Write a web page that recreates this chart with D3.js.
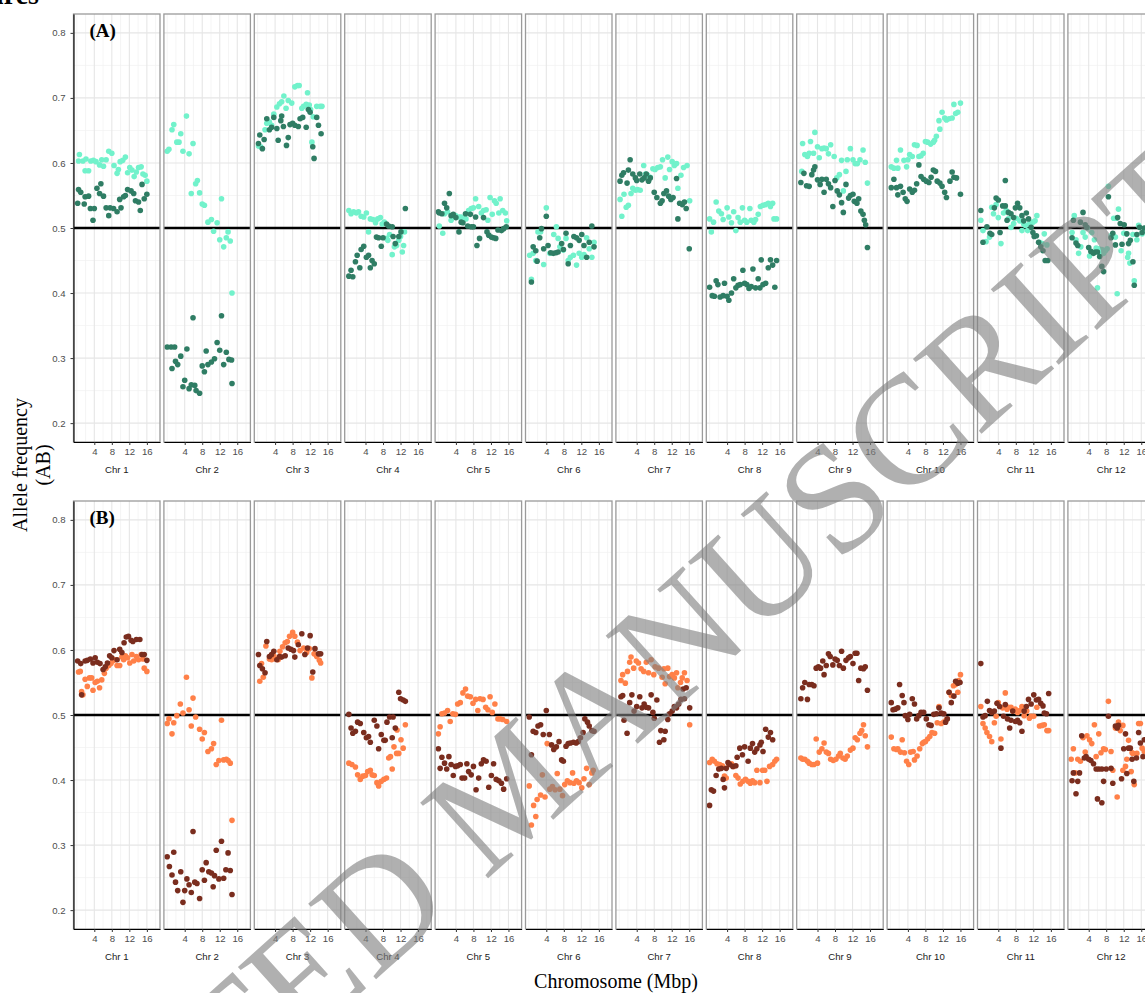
<!DOCTYPE html>
<html>
<head>
<meta charset="utf-8">
<script src="https://cdn.jsdelivr.net/npm/d3@7"></script>
<style>
  body { margin: 0; background: #fff; }
  svg { display: block; }
</style>
</head>
<body>
<svg id="chart" width="1145" height="993"></svg>
<script>
const chromosomes = ["Chr 1", "Chr 2", "Chr 3", "Chr 4", "Chr 5", "Chr 6", "Chr 7", "Chr 8", "Chr 9", "Chr 10", "Chr 11", "Chr 12"];
const xTicks = [4, 8, 12, 16];
const xMinor = [0, 2, 6, 10, 14, 18];
const yTicks = [0.2, 0.3, 0.4, 0.5, 0.6, 0.7, 0.8];
const yMinor = [0.25, 0.35, 0.45, 0.55, 0.65, 0.75];

// panel (A), light series: [Mbp, allele frequency]
const aLight = [
  [[0.4,.603],[0.6,.613],[1.4,.603],[1.9,.588],[2.1,.606],[2.7,.588],[3.2,.603],[3.8,.604],[4.4,.602],[5.2,.597],[5.7,.605],[6.1,.595],[6.7,.605],[7.3,.618],[8.0,.615],[8.5,.596],[9.2,.584],[9.5,.590],[9.9,.602],[10.5,.604],[11.1,.609],[11.6,.585],[12.1,.593],[12.6,.589],[13.1,.579],[13.6,.586],[14.1,.593],[14.7,.594],[15.1,.583],[15.6,.581],[16.0,.572]],
  [[0,.618],[0.4,.621],[1.1,.651],[1.5,.659],[2.2,.632],[2.7,.632],[3.1,.645],[3.6,.618],[4.4,.672],[5.0,.614],[5.9,.630],[5.5,.553],[6.5,.568],[6.9,.573],[7.4,.554],[8.0,.537],[8.5,.535],[9.3,.509],[10.1,.513],[10.6,.495],[11.4,.508],[12.0,.482],[12.4,.545],[12.9,.471],[13.5,.485],[13.9,.494],[14.4,.480],[14.8,.400]],
  [[0.2,.626],[0.7,.625],[1.7,.651],[2.1,.661],[2.7,.663],[3.2,.658],[3.7,.675],[4.4,.686],[5.0,.691],[5.5,.694],[6.0,.703],[6.5,.684],[7.0,.696],[7.8,.692],[8.5,.717],[9.1,.719],[9.5,.719],[10.1,.684],[10.5,.687],[11.1,.690],[11.4,.708],[11.8,.689],[12.1,.682],[12.4,.632],[12.7,.671],[13.5,.687],[14.3,.687],[14.7,.687]],
  [[0.2,.527],[0.7,.522],[1.3,.525],[1.9,.523],[2.4,.525],[3.0,.518],[3.6,.517],[4.2,.523],[4.7,.494],[5.1,.514],[5.7,.513],[6.3,.508],[6.8,.514],[7.4,.516],[7.8,.506],[8.3,.509],[8.8,.484],[9.1,.481],[9.5,.490],[10.1,.459],[10.6,.471],[11.1,.473],[11.6,.481],[12.0,.487],[12.4,.463],[12.7,.473],[12.9,.494]],
  [[0.2,.503],[1.0,.492],[1.4,.522],[2.1,.525],[2.9,.512],[3.4,.518],[3.9,.519],[4.7,.517],[5.2,.517],[5.7,.514],[6.3,.514],[6.9,.527],[7.5,.530],[8.0,.531],[8.5,.545],[9.2,.533],[9.8,.523],[10.3,.527],[10.9,.528],[11.3,.512],[11.8,.547],[12.3,.521],[12.8,.542],[13.2,.538],[13.8,.523],[14.1,.545],[14.7,.527],[15.3,.523],[15.6,.511]],
  [[0.2,.458],[0.6,.421],[1.0,.461],[1.6,.450],[2.1,.494],[2.7,.494],[3.4,.444],[4.0,.531],[4.8,.461],[5.7,.490],[6.3,.502],[6.7,.484],[7.1,.471],[7.9,.466],[8.5,.484],[9.0,.450],[9.5,.455],[10.2,.458],[10.9,.443],[11.5,.461],[12.1,.455],[12.6,.459],[13.2,.485],[13.8,.468],[14.4,.455],[14.9,.478]],
  [[0.2,.544],[0.6,.518],[1.1,.552],[1.6,.532],[2.1,.535],[2.7,.553],[3.1,.561],[3.7,.558],[4.2,.559],[4.8,.558],[5.6,.596],[6.0,.583],[6.5,.581],[7.1,.578],[7.7,.591],[8.2,.590],[8.8,.593],[9.4,.594],[9.9,.605],[10.5,.577],[11.1,.609],[11.5,.590],[12.1,.602],[12.6,.596],[13.1,.599],[13.4,.561],[14.1,.581],[14.7,.593],[15.5,.596],[16.1,.542]],
  [[0,.514],[0.4,.494],[0.9,.509],[1.5,.540],[2.1,.526],[2.7,.522],[3.1,.513],[4.0,.531],[4.4,.517],[5.0,.508],[5.5,.525],[6.0,.496],[6.5,.516],[7.0,.509],[7.5,.531],[8.0,.512],[8.5,.509],[9.2,.530],[9.5,.512],[10.1,.509],[10.5,.513],[11.1,.521],[11.6,.533],[12.2,.535],[12.8,.536],[13.4,.538],[13.9,.533],[14.4,.538],[14.7,.514],[15.3,.514]],
  [[0.4,.587],[0.6,.630],[1.1,.613],[1.7,.610],[2.1,.615],[2.4,.633],[3.1,.615],[3.4,.647],[4.0,.625],[4.4,.608],[5.0,.622],[5.5,.623],[6.0,.622],[6.5,.614],[7.0,.628],[7.8,.610],[8.4,.577],[9.0,.582],[9.5,.604],[9.9,.557],[10.5,.587],[10.8,.605],[11.5,.622],[12.1,.605],[12.6,.599],[13.1,.599],[13.7,.605],[14.4,.620],[14.9,.601],[15.4,.569]],
  [[0.2,.594],[0.8,.592],[1.4,.604],[1.7,.592],[2.3,.620],[3.1,.604],[3.7,.594],[4.0,.605],[4.4,.613],[5.0,.610],[5.5,.628],[6.1,.627],[6.5,.610],[7.0,.611],[7.5,.615],[8.0,.633],[8.5,.632],[9.2,.629],[9.8,.632],[10.1,.635],[10.5,.641],[11.1,.665],[11.3,.652],[11.8,.678],[12.4,.669],[12.8,.666],[13.4,.668],[14.1,.669],[14.5,.690],[14.9,.676],[15.4,.678],[16.0,.692]],
  [[0,.512],[0.5,.496],[1.2,.479],[2.0,.486],[2.5,.532],[2.9,.522],[3.5,.536],[4.0,.516],[4.6,.476],[5.2,.523],[5.8,.527],[6.3,.514],[6.9,.501],[7.5,.507],[8.1,.515],[8.9,.511],[9.4,.496],[9.8,.506],[10.2,.504],[10.7,.496],[11.1,.506],[11.9,.509],[12.4,.511],[12.8,.519],[13.4,.478],[14.0,.476],[14.5,.491],[15.1,.474]],
  [[0.2,.493],[0.7,.519],[1.1,.482],[1.7,.461],[2.2,.471],[2.7,.493],[3.2,.486],[3.7,.500],[4.2,.457],[4.7,.493],[5.3,.482],[5.7,.469],[6.0,.408],[6.3,.468],[6.6,.459],[7.0,.467],[7.4,.461],[7.8,.465],[8.2,.468],[8.5,.564],[9.1,.488],[9.7,.515],[10.1,.486],[10.3,.515],[10.5,.399],[10.8,.529],[11.4,.465],[12.0,.492],[12.6,.491],[12.9,.455],[13.1,.461],[13.4,.446],[14.1,.490],[14.4,.419],[15.0,.482],[15.4,.504],[16.2,.491],[16.7,.496]]
];

// panel (A), dark series
const aDark = [
  [[0.2,.538],[0.4,.559],[0.9,.555],[1.7,.537],[1.9,.548],[2.7,.549],[3.1,.530],[3.7,.512],[4.0,.530],[4.6,.561],[5.2,.553],[5.5,.568],[6.1,.549],[6.7,.531],[7.3,.519],[7.6,.531],[8.4,.530],[9.2,.525],[9.8,.544],[10.1,.531],[10.7,.548],[11.1,.550],[11.6,.559],[12.4,.557],[13.0,.553],[13.4,.542],[14.1,.540],[14.5,.527],[14.9,.567],[15.4,.545],[16.0,.552]],
  [[0,.317],[0.9,.317],[1.1,.284],[1.7,.317],[1.9,.295],[2.4,.290],[3.1,.303],[3.6,.256],[4.0,.266],[4.5,.314],[5.0,.253],[5.5,.259],[5.9,.362],[6.3,.258],[6.6,.250],[7.4,.246],[8.0,.288],[8.5,.279],[8.9,.311],[9.3,.290],[10.1,.294],[10.8,.299],[11.4,.324],[12.0,.312],[12.4,.365],[12.9,.290],[13.5,.309],[14.1,.298],[14.7,.297],[14.8,.261]],
  [[0.2,.630],[0.5,.643],[1.1,.622],[1.5,.636],[2.1,.668],[2.7,.651],[3.2,.655],[3.7,.670],[4.4,.653],[4.7,.635],[5.3,.665],[5.5,.672],[5.9,.656],[6.6,.627],[7.0,.639],[7.4,.659],[8.0,.661],[8.5,.658],[9.3,.656],[9.7,.668],[10.3,.670],[11.1,.655],[11.6,.682],[12.0,.678],[12.6,.625],[12.9,.607],[13.5,.670],[13.9,.658],[14.5,.645]],
  [[0.2,.426],[0.7,.435],[1.1,.425],[1.7,.448],[2.1,.458],[2.7,.439],[3.0,.467],[3.6,.472],[4.2,.455],[4.7,.458],[5.1,.439],[5.5,.450],[6.0,.445],[6.5,.486],[7.0,.485],[7.6,.472],[8.0,.485],[8.8,.506],[9.3,.503],[10.1,.502],[10.3,.487],[10.8,.476],[11.6,.487],[12.1,.494],[13.1,.530]],
  [[0,.525],[0.2,.523],[0.8,.522],[1.4,.538],[1.9,.531],[2.5,.553],[2.9,.519],[3.4,.521],[4.0,.516],[4.7,.494],[5.2,.509],[5.6,.508],[6.2,.522],[6.7,.503],[7.3,.521],[7.5,.502],[8.0,.502],[8.5,.517],[8.8,.473],[9.4,.484],[10.3,.516],[11.1,.494],[11.5,.489],[12.1,.486],[12.6,.485],[13.1,.484],[13.6,.497],[14.4,.496],[14.9,.499],[15.5,.502]],
  [[0.6,.417],[1.0,.471],[1.6,.465],[1.9,.449],[2.5,.485],[2.9,.499],[3.4,.468],[4.0,.518],[4.4,.473],[5.0,.462],[5.6,.461],[6.2,.462],[6.7,.463],[7.5,.476],[7.9,.467],[8.5,.492],[9.0,.445],[9.5,.473],[10.3,.487],[10.9,.485],[11.5,.481],[12.1,.490],[12.6,.473],[13.2,.455],[13.8,.478],[14.4,.503],[14.9,.471]],
  [[0.2,.572],[0.6,.581],[1.0,.585],[1.8,.569],[2.1,.589],[2.5,.605],[3.1,.583],[3.7,.577],[4.0,.573],[4.7,.583],[5.2,.574],[5.7,.577],[6.2,.583],[6.7,.572],[7.1,.577],[8.0,.555],[8.6,.547],[9.4,.538],[9.8,.542],[10.2,.553],[10.8,.557],[11.3,.549],[11.8,.544],[12.3,.547],[13.1,.576],[13.4,.514],[13.8,.538],[14.4,.536],[14.9,.540],[15.3,.530],[16.0,.468]],
  [[0,.409],[0.6,.396],[1.1,.395],[1.5,.419],[1.9,.413],[2.4,.394],[3.1,.396],[3.4,.415],[4.0,.395],[4.4,.389],[5.0,.400],[5.5,.422],[6.0,.408],[6.5,.412],[7.0,.413],[7.6,.435],[8.0,.415],[8.5,.413],[9.0,.407],[9.5,.410],[9.9,.437],[10.5,.408],[11.1,.422],[11.5,.408],[11.8,.451],[12.2,.413],[12.8,.415],[13.4,.439],[13.9,.451],[14.4,.443],[14.9,.409],[15.3,.450]],
  [[0.2,.570],[0.9,.584],[1.5,.565],[2.1,.564],[2.7,.582],[3.1,.589],[3.4,.594],[4.0,.574],[4.6,.567],[5.0,.575],[5.5,.555],[6.0,.575],[6.5,.568],[7.0,.562],[7.5,.533],[8.0,.573],[8.5,.557],[9.0,.551],[9.5,.539],[9.9,.524],[10.5,.567],[11.1,.546],[11.5,.550],[12.1,.552],[12.4,.541],[13.0,.538],[13.4,.545],[13.9,.526],[14.4,.521],[14.7,.512],[15.0,.505],[15.4,.470]],
  [[0.2,.562],[0.8,.575],[1.4,.562],[1.7,.551],[2.3,.564],[2.9,.555],[3.4,.545],[3.8,.541],[4.4,.560],[5.0,.555],[5.5,.558],[6.0,.568],[6.5,.597],[7.0,.579],[7.6,.575],[8.2,.572],[8.8,.570],[9.3,.578],[9.8,.589],[10.3,.587],[10.7,.572],[11.3,.569],[11.8,.564],[12.4,.555],[12.8,.547],[13.6,.572],[14.1,.586],[14.5,.578],[15.1,.577],[16.0,.552]],
  [[0,.527],[0.5,.478],[1.4,.502],[2.1,.492],[2.5,.490],[3.1,.531],[3.5,.546],[4.0,.543],[4.4,.493],[5.0,.534],[5.6,.573],[5.6,.534],[6.0,.512],[6.3,.524],[6.9,.522],[7.5,.516],[7.9,.531],[8.4,.538],[8.9,.531],[9.4,.519],[9.8,.511],[10.4,.523],[10.9,.514],[11.5,.501],[11.9,.493],[12.2,.487],[12.7,.488],[13.2,.478],[13.7,.471],[14.2,.465],[14.7,.450],[15.3,.450]],
  [[0.2,.485],[0.5,.512],[1.1,.477],[1.5,.473],[2.1,.509],[2.7,.524],[3.2,.505],[3.6,.501],[4.0,.470],[4.5,.464],[5.1,.461],[5.5,.463],[6.0,.463],[6.5,.456],[7.0,.441],[7.4,.433],[8.5,.548],[9.1,.485],[9.5,.492],[10.1,.474],[10.6,.516],[11.2,.507],[11.6,.475],[12.1,.505],[12.7,.491],[13.1,.476],[13.5,.481],[14.1,.448],[14.4,.412],[15.0,.490],[15.6,.501],[16.2,.493],[16.7,.500]]
];

// panel (B), light series
const bLight = [
  [[0.4,.566],[0.8,.567],[1.1,.536],[1.4,.531],[1.9,.555],[2.4,.544],[2.9,.557],[3.4,.557],[3.7,.538],[4.2,.550],[4.7,.552],[5.2,.542],[5.7,.554],[6.3,.564],[6.7,.572],[7.3,.576],[7.8,.579],[8.2,.583],[8.8,.585],[9.2,.576],[9.8,.576],[10.3,.589],[10.7,.585],[11.1,.591],[11.6,.588],[12.1,.580],[12.6,.593],[13.0,.583],[13.6,.590],[14.1,.585],[14.7,.593],[15.1,.586],[15.4,.572],[16.0,.567]],
  [[0,.487],[0.4,.494],[1.1,.471],[1.5,.488],[2.2,.499],[3.0,.517],[3.6,.503],[4.4,.558],[5.0,.508],[5.5,.483],[5.9,.526],[6.5,.497],[7.4,.478],[8.0,.463],[8.5,.473],[9.3,.444],[10.1,.448],[10.6,.456],[11.2,.424],[11.8,.430],[12.4,.492],[12.9,.431],[13.5,.432],[13.9,.430],[14.4,.426],[14.8,.338]],
  [[0.5,.552],[0.9,.579],[1.3,.558],[1.9,.606],[2.7,.586],[3.2,.585],[3.7,.591],[4.2,.586],[4.7,.585],[5.1,.598],[5.7,.605],[6.3,.611],[6.8,.613],[7.3,.621],[8.0,.627],[8.5,.621],[9.1,.612],[9.7,.599],[10.5,.603],[11.2,.596],[11.8,.602],[12.4,.557],[12.9,.594],[13.5,.590],[14.1,.584],[14.4,.580]],
  [[0.2,.426],[0.9,.424],[1.7,.420],[2.2,.408],[2.8,.401],[3.4,.406],[4.0,.407],[4.5,.413],[5.1,.415],[5.5,.408],[6.0,.407],[6.6,.396],[7.0,.391],[7.6,.398],[8.2,.401],[8.8,.403],[9.3,.434],[9.7,.436],[10.1,.417],[10.5,.451],[11.1,.441],[11.2,.477],[11.6,.441],[12.1,.462],[12.6,.449],[13.1,.485]],
  [[0,.471],[0.4,.482],[0.8,.502],[1.4,.503],[2.1,.507],[2.7,.490],[3.3,.502],[3.9,.501],[4.4,.517],[5.0,.519],[5.6,.534],[6.2,.540],[6.7,.529],[7.3,.528],[7.9,.518],[8.5,.524],[9.0,.507],[9.5,.525],[10.2,.524],[10.8,.512],[11.3,.508],[11.8,.528],[12.3,.504],[12.9,.517],[13.6,.494],[14.1,.494],[14.7,.493],[15.6,.490]],
  [[0.1,.391],[0.6,.331],[1.1,.361],[1.6,.344],[1.9,.370],[2.7,.377],[3.1,.408],[3.7,.374],[4.2,.456],[4.8,.386],[5.4,.390],[6.0,.385],[6.5,.410],[7.1,.386],[7.7,.376],[8.2,.393],[8.8,.399],[9.4,.396],[10.0,.411],[10.3,.395],[10.9,.399],[11.5,.396],[12.1,.388],[12.6,.402],[13.2,.418],[13.8,.393],[14.4,.411],[14.7,.415]],
  [[0.4,.553],[0.8,.562],[1.4,.549],[1.9,.567],[2.4,.581],[2.7,.589],[3.3,.572],[3.9,.583],[4.4,.580],[5.0,.571],[5.6,.567],[6.2,.581],[6.7,.565],[7.3,.585],[7.9,.562],[8.2,.574],[9.0,.572],[9.8,.558],[10.2,.571],[10.5,.548],[11.1,.572],[11.5,.559],[12.1,.562],[12.6,.557],[13.1,.565],[13.4,.542],[14.0,.550],[14.4,.557],[14.9,.565],[15.5,.553],[16.1,.485]],
  [[0,.427],[0.6,.432],[1.1,.429],[1.7,.425],[2.3,.424],[2.9,.422],[3.4,.406],[3.8,.403],[4.4,.424],[5.0,.425],[5.5,.421],[6.0,.407],[6.5,.403],[7.0,.394],[7.6,.398],[8.2,.401],[8.8,.398],[9.3,.395],[9.8,.399],[10.3,.396],[10.8,.415],[11.5,.396],[12.1,.415],[12.6,.415],[13.1,.398],[13.7,.421],[14.4,.424],[14.9,.429],[15.3,.432]],
  [[0.2,.434],[0.6,.432],[1.1,.432],[1.7,.429],[2.1,.426],[2.7,.424],[3.2,.424],[3.7,.463],[4.0,.426],[4.4,.443],[5.0,.448],[5.5,.457],[6.0,.443],[6.5,.441],[7.0,.432],[7.6,.430],[8.2,.432],[8.8,.437],[9.2,.441],[9.8,.434],[10.3,.432],[10.8,.437],[11.5,.446],[12.1,.449],[12.6,.465],[13.1,.462],[13.7,.472],[14.1,.476],[14.5,.485],[14.9,.468],[15.4,.451]],
  [[0.2,.466],[0.8,.448],[1.4,.447],[1.7,.448],[2.3,.443],[2.7,.462],[3.2,.442],[3.7,.429],[4.2,.424],[4.6,.443],[5.2,.444],[5.5,.431],[6.1,.437],[6.7,.448],[7.3,.456],[7.6,.458],[8.0,.459],[8.5,.463],[9.0,.467],[9.5,.473],[10.1,.472],[10.7,.488],[11.1,.513],[11.6,.487],[12.2,.489],[12.8,.493],[13.4,.535],[13.9,.530],[14.4,.545],[14.9,.547],[15.3,.550],[15.4,.535],[15.6,.553],[16.0,.562]],
  [[0,.513],[0.5,.487],[1.0,.480],[1.4,.473],[2.0,.467],[2.5,.459],[3.1,.488],[3.5,.498],[4.0,.519],[4.6,.463],[5.0,.511],[5.6,.534],[6.0,.509],[6.3,.512],[6.9,.512],[7.3,.506],[7.9,.509],[8.4,.504],[8.9,.507],[9.4,.513],[9.9,.499],[10.5,.506],[11.1,.495],[11.5,.498],[12.1,.498],[12.8,.512],[13.4,.483],[14.0,.484],[14.5,.485],[15.1,.476],[15.5,.476]],
  [[0,.432],[0.5,.448],[0.9,.411],[1.5,.432],[2.1,.429],[2.7,.465],[3.2,.443],[3.6,.468],[4.2,.462],[4.7,.456],[5.3,.485],[5.7,.436],[6.3,.471],[6.8,.442],[7.4,.448],[7.8,.447],[8.5,.521],[9.1,.444],[9.5,.415],[10.1,.480],[10.5,.374],[10.8,.489],[11.2,.476],[11.8,.415],[11.8,.484],[12.4,.421],[12.7,.432],[13.1,.461],[13.7,.413],[13.9,.442],[14.1,.441],[14.4,.393],[15.0,.441],[15.4,.487],[15.8,.487],[16.2,.449],[16.7,.444]]
];

// panel (B), dark series
const bDark = [
  [[0.2,.583],[0.9,.579],[1.1,.531],[1.9,.583],[2.4,.584],[3.1,.586],[3.7,.580],[4.2,.588],[4.7,.581],[5.3,.579],[6.0,.570],[6.5,.574],[7.0,.580],[7.5,.591],[8.0,.588],[8.5,.599],[9.2,.585],[9.8,.601],[10.3,.596],[10.8,.611],[11.3,.620],[11.8,.621],[12.4,.615],[12.8,.613],[13.6,.616],[14.4,.616],[14.9,.593],[15.4,.593],[16.0,.584]],
  [[0,.282],[0.5,.267],[1.1,.254],[1.5,.289],[1.9,.243],[2.4,.230],[3.1,.259],[3.6,.212],[4.0,.230],[4.5,.248],[5.0,.239],[5.5,.227],[5.9,.321],[6.3,.243],[6.8,.241],[7.4,.218],[8.0,.262],[8.5,.246],[8.9,.273],[9.5,.259],[10.1,.257],[10.5,.236],[10.8,.253],[11.2,.292],[11.8,.248],[12.4,.306],[12.9,.249],[13.4,.262],[13.9,.288],[14.4,.261],[14.8,.224]],
  [[0.2,.593],[0.5,.576],[1.1,.571],[1.7,.565],[2.1,.613],[2.7,.590],[3.2,.593],[3.7,.598],[4.4,.585],[5.0,.590],[5.5,.589],[6.3,.591],[7.0,.603],[7.6,.601],[8.2,.599],[8.5,.589],[9.3,.608],[10.1,.625],[10.8,.593],[11.4,.603],[12.0,.622],[12.6,.566],[13.1,.602],[13.9,.594],[14.4,.594]],
  [[0.2,.501],[0.7,.480],[1.1,.472],[1.7,.475],[2.2,.489],[2.8,.487],[3.6,.473],[4.2,.465],[4.7,.467],[5.1,.458],[6.0,.492],[6.6,.483],[7.0,.448],[7.6,.470],[8.2,.461],[8.5,.461],[8.9,.489],[9.5,.497],[10.1,.465],[10.3,.497],[10.8,.480],[11.6,.535],[12.0,.525],[12.6,.523],[13.1,.521]],
  [[0,.448],[0.4,.418],[0.8,.435],[1.4,.426],[1.9,.417],[2.4,.436],[2.9,.424],[3.4,.407],[3.9,.421],[4.4,.422],[5.0,.424],[5.4,.403],[6.0,.403],[6.5,.425],[6.9,.413],[7.5,.408],[8.0,.421],[8.6,.385],[9.2,.403],[9.8,.425],[10.3,.431],[10.9,.429],[11.5,.389],[12.1,.407],[12.6,.425],[13.2,.401],[13.8,.399],[14.4,.395],[14.9,.386],[15.6,.402]],
  [[0.1,.497],[0.6,.439],[1.0,.475],[1.6,.473],[2.1,.483],[2.7,.485],[3.3,.470],[4.0,.507],[4.7,.470],[5.2,.454],[5.7,.447],[6.3,.451],[6.9,.459],[7.5,.431],[7.9,.429],[8.5,.452],[9.0,.456],[9.5,.457],[10.2,.458],[10.8,.457],[11.3,.459],[11.8,.465],[12.4,.473],[12.8,.494],[13.4,.489],[13.8,.483],[14.4,.476],[14.9,.475]],
  [[0.4,.528],[0.8,.530],[1.1,.492],[1.8,.472],[2.4,.519],[2.9,.531],[3.4,.506],[4.0,.513],[4.7,.528],[5.2,.511],[5.7,.517],[6.2,.512],[6.7,.511],[7.3,.531],[7.7,.504],[8.0,.495],[8.6,.523],[9.2,.458],[9.5,.476],[10.2,.462],[10.5,.475],[11.1,.493],[11.5,.502],[12.1,.506],[12.6,.513],[13.1,.511],[13.6,.517],[14.1,.524],[14.6,.540],[14.9,.525],[15.3,.542],[16.1,.511]],
  [[0,.361],[0.4,.385],[0.9,.383],[1.5,.407],[2.1,.417],[2.7,.418],[3.1,.401],[3.4,.388],[3.8,.418],[4.2,.427],[4.6,.424],[5.3,.421],[6.0,.422],[6.3,.435],[6.9,.449],[7.5,.439],[8.0,.451],[8.8,.429],[9.3,.449],[9.8,.456],[10.3,.443],[10.8,.448],[11.5,.454],[11.8,.458],[12.2,.444],[12.8,.478],[13.4,.466],[13.9,.473],[14.4,.462]],
  [[0.2,.525],[0.6,.542],[1.1,.550],[1.7,.524],[2.1,.547],[2.7,.547],[3.2,.545],[3.7,.572],[4.2,.574],[4.7,.572],[5.2,.583],[5.5,.562],[6.0,.576],[6.5,.594],[6.9,.590],[7.5,.577],[8.0,.586],[8.5,.584],[9.0,.576],[9.5,.598],[9.9,.572],[10.5,.584],[11.1,.588],[11.5,.590],[12.1,.579],[12.6,.595],[13.0,.595],[13.4,.553],[13.9,.572],[14.5,.571],[14.9,.574],[15.4,.538]],
  [[0.2,.519],[0.6,.508],[1.1,.509],[1.7,.511],[2.1,.547],[2.7,.530],[3.1,.519],[3.4,.499],[4.0,.493],[4.4,.501],[5.0,.525],[5.5,.517],[6.0,.494],[6.5,.499],[7.0,.504],[7.6,.504],[8.2,.494],[8.8,.485],[9.3,.484],[9.9,.501],[10.5,.502],[11.1,.511],[11.6,.503],[12.2,.502],[12.6,.489],[13.0,.494],[13.4,.535],[13.9,.519],[14.5,.529],[14.9,.552],[15.4,.549],[15.9,.550]],
  [[0,.579],[0.5,.497],[1.0,.499],[1.5,.521],[2.0,.507],[2.5,.504],[3.1,.506],[3.7,.518],[4.3,.513],[4.6,.449],[5.2,.498],[5.6,.516],[6.1,.494],[6.6,.480],[6.9,.492],[7.3,.506],[7.9,.490],[8.4,.492],[8.9,.488],[9.4,.475],[9.9,.506],[10.4,.513],[10.9,.524],[11.5,.517],[12.1,.531],[12.7,.523],[13.2,.524],[13.7,.518],[14.2,.514],[14.5,.503],[15.0,.502],[15.5,.533]],
  [[0.2,.399],[0.5,.411],[1.1,.379],[1.5,.398],[1.9,.411],[2.4,.468],[3.0,.434],[3.4,.436],[4.0,.432],[4.5,.430],[5.1,.425],[5.7,.417],[6.0,.371],[6.3,.417],[7.0,.417],[7.0,.365],[7.4,.398],[8.0,.417],[8.5,.498],[9.1,.418],[9.5,.395],[10.1,.483],[10.5,.480],[10.8,.484],[11.5,.402],[12.0,.448],[12.4,.471],[12.7,.410],[13.1,.449],[13.5,.449],[13.9,.432],[14.3,.398],[14.9,.434],[15.4,.473],[15.8,.457],[16.4,.436],[16.7,.462]]
];

const rows = [
  { tag: "(A)", top: 14, light: aLight, dark: aDark, colors: ["#72F2CB", "#2F7D64"] },
  { tag: "(B)", top: 501, light: bLight, dark: bDark, colors: ["#FF8048", "#7A2D1E"] }
];

// layout
const left0 = 73.5, panelStep = 90.4, panelW = 86.5, panelH = 428;
const sans = "'Liberation Sans', Arial, sans-serif";
const serif = "'Liberation Serif', 'Times New Roman', serif";

const svg = d3.select("#chart");

// title fragment cut at the top
svg.append("text")
  .attr("x", 39).attr("y", 4)
  .attr("text-anchor", "end")
  .style("font-family", serif).style("font-weight", "bold").style("font-size", "28px")
  .text("Figures");

rows.forEach(row => {
  const bottom = row.top + panelH;
  const y = d3.scaleLinear().domain([0.171, 0.829]).range([bottom, row.top]);

  chromosomes.forEach((chr, i) => {
    const L = left0 + i * panelStep;
    const x = d3.scaleLinear().domain([-0.75, 19]).range([L, L + panelW]);
    const g = svg.append("g");

    g.append("rect")
      .attr("x", L).attr("y", row.top)
      .attr("width", panelW).attr("height", panelH)
      .attr("fill", "#fff");

    // grid
    g.selectAll(".vmin").data(xMinor).join("line")
      .attr("x1", d => x(d)).attr("x2", d => x(d))
      .attr("y1", row.top).attr("y2", bottom)
      .attr("stroke", "#f0f0f0").attr("stroke-width", 0.7);
    g.selectAll(".hmin").data(yMinor).join("line")
      .attr("x1", L).attr("x2", L + panelW)
      .attr("y1", d => y(d)).attr("y2", d => y(d))
      .attr("stroke", "#f0f0f0").attr("stroke-width", 0.7);
    g.selectAll(".vmaj").data(xTicks).join("line")
      .attr("x1", d => x(d)).attr("x2", d => x(d))
      .attr("y1", row.top).attr("y2", bottom)
      .attr("stroke", "#e6e6e6").attr("stroke-width", 1.1);
    g.selectAll(".hmaj").data(yTicks).join("line")
      .attr("x1", L).attr("x2", L + panelW)
      .attr("y1", d => y(d)).attr("y2", d => y(d))
      .attr("stroke", "#e6e6e6").attr("stroke-width", 1.1);

    // 0.5 reference line
    g.append("line")
      .attr("x1", L).attr("x2", L + panelW)
      .attr("y1", y(0.5)).attr("y2", y(0.5))
      .attr("stroke", "#000").attr("stroke-width", 2.4);

    // points: light first, dark on top
    [[row.light[i], row.colors[0]], [row.dark[i], row.colors[1]]].forEach(([pts, col]) => {
      g.selectAll(null).data(pts).join("circle")
        .attr("cx", d => x(d[0])).attr("cy", d => y(d[1]))
        .attr("r", 2.8)
        .attr("fill", col);
    });

    g.append("rect")
      .attr("x", L).attr("y", row.top)
      .attr("width", panelW).attr("height", panelH)
      .attr("fill", "none").attr("stroke", "#9a9a9a").attr("stroke-width", 1.3);

    // bottom axis
    const ax = g.append("g")
      .attr("transform", `translate(0,${bottom})`)
      .call(d3.axisBottom(x).tickValues(xTicks).tickSize(3).tickSizeOuter(0).tickPadding(3));
    ax.select(".domain").attr("stroke", "#000").attr("stroke-width", 1.1);
    ax.selectAll(".tick line").attr("stroke", "#333");
    ax.selectAll(".tick text")
      .style("font-family", sans).style("font-size", "9.6px").attr("fill", "#4d4d4d");

    // strip label below
    g.append("text")
      .attr("x", L + panelW / 2).attr("y", bottom + 31)
      .attr("text-anchor", "middle")
      .style("font-family", sans).style("font-size", "9.6px").attr("fill", "#1a1a1a")
      .text(chr);

    if (i === 0) {
      const ay = g.append("g")
        .attr("transform", `translate(${L},0)`)
        .call(d3.axisLeft(y).tickValues(yTicks).tickSize(3).tickSizeOuter(0).tickPadding(5).tickFormat(d3.format(".1f")));
      ay.select(".domain").attr("stroke", "#000").attr("stroke-width", 1.1);
      ay.selectAll(".tick line").attr("stroke", "#333");
      ay.selectAll(".tick text")
        .style("font-family", sans).style("font-size", "9.6px").attr("fill", "#4d4d4d");

      g.append("text")
        .attr("x", L + 16).attr("y", row.top + 23)
        .style("font-family", serif).style("font-weight", "bold").style("font-size", "19px")
        .text(row.tag);
    }
  });
});

// axis titles
svg.append("text")
  .attr("transform", "translate(27,465) rotate(-90)")
  .attr("text-anchor", "middle")
  .style("font-family", serif).style("font-size", "20px")
  .text("Allele frequency");
svg.append("text")
  .attr("transform", "translate(50,465) rotate(-90)")
  .attr("text-anchor", "middle")
  .style("font-family", serif).style("font-size", "20px")
  .text("(AB)");
svg.append("text")
  .attr("x", 616).attr("y", 988)
  .attr("text-anchor", "middle")
  .style("font-family", serif).style("font-size", "20px")
  .text("Chromosome (Mbp)");

// watermark
svg.append("text")
  .attr("transform", "translate(544,828) rotate(-42)")
  .attr("text-anchor", "middle")
  .style("font-family", serif).style("font-size", "155px")
  .attr("fill", "#808080").attr("fill-opacity", 0.62)
  .text("ACCEPTED MANUSCRIPT");
</script>
</body>
</html>
